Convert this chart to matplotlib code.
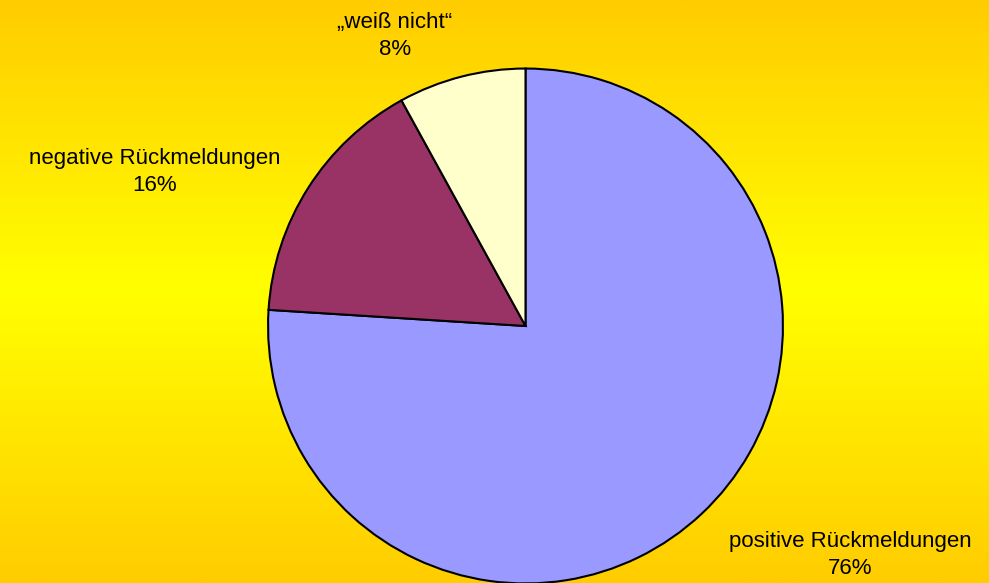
import numpy as np
import matplotlib.pyplot as plt
from matplotlib.colors import LinearSegmentedColormap

plt.rcParams['font.family'] = ['Liberation Sans', 'DejaVu Sans']

labels = ['positive Rückmeldungen', 'negative Rückmeldungen', '„weiß nicht“']
shares = [76, 16, 8]
colors = ['#9999FF', '#993366', '#FFFFCC']
label_pos = [(850, 555), (155, 172), (395, 36)]  # pixel centres of the label blocks

W, H = 989, 583
fig = plt.figure(figsize=(W / 100, H / 100), dpi=100)

# background: orange-yellow at the edges, pure yellow in the middle
bg = fig.add_axes([0, 0, 1, 1])
cmap = LinearSegmentedColormap.from_list('bg', ['#FFCC00', '#FFFF00', '#FFCC00'])
grad = np.linspace(0, 1, 256).reshape(-1, 1)
bg.imshow(grad, cmap=cmap, aspect='auto', extent=[0, 1, 0, 1])
bg.set_axis_off()

# pie
cx, cy, r = 525.5, 326, 259
ax = fig.add_axes([(cx - r) / W, (H - cy - r) / H, 2 * r / W, 2 * r / H])
ax.pie(shares, colors=colors, startangle=90, counterclock=False,
       wedgeprops=dict(edgecolor='black', linewidth=1.5))
ax.set_xlim(-1.006, 1.006)
ax.set_ylim(-1.006, 1.006)
ax.set_axis_off()

for lab, val, (x, y) in zip(labels, shares, label_pos):
    fig.text(x / W, 1 - y / H, f'{lab}\n{val}%', ha='center', va='center',
             fontsize=16, linespacing=1.35, color='black')

fig.savefig('out.png', dpi=100)
